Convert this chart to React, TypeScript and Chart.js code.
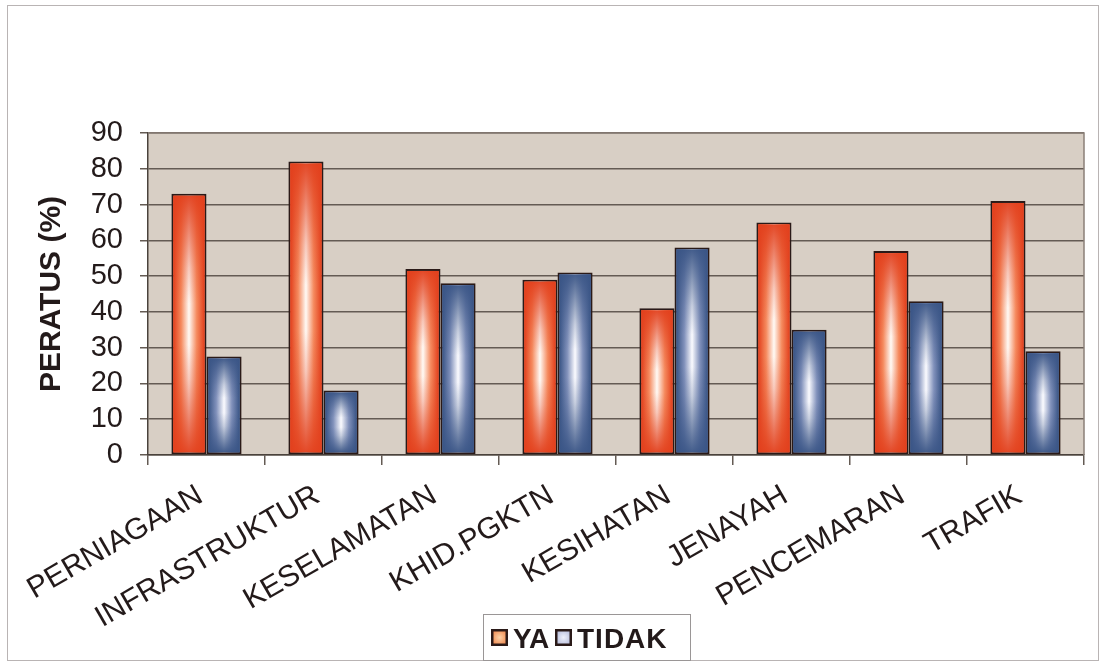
import React, { useEffect, useRef } from "react";
import { Chart, registerables } from "chart.js";

Chart.register(...registerables);

const categories = [
  "PERNIAGAAN",
  "INFRASTRUKTUR",
  "KESELAMATAN",
  "KHID.PGKTN",
  "KESIHATAN",
  "JENAYAH",
  "PENCEMARAN",
  "TRAFIK",
];
const yaValues = [73, 82, 52, 49, 41, 65, 57, 71];
const tidakValues = [27.5, 18, 48, 51, 58, 35, 43, 29];
const seriesNames = ["YA", "TIDAK"];
const yAxisTitle = "PERATUS (%)";
const yMin = 0;
const yMax = 90;
const yStep = 10;

const FONT = '"Liberation Sans", Arial, Helvetica, sans-serif';
const TEXT = "#231a1a";
const GRID = "#645b54";

type Pal = { edge: string; edgeRgb: string; mid: string; center: string };
const palettes: Pal[] = [
  { edge: "#e2401d", edgeRgb: "226,64,29", mid: "#f58a5e", center: "#fffaf5" },
  { edge: "#3a5586", edgeRgb: "58,85,134", mid: "#8191bb", center: "#fbfbff" },
];

function paintBar(ctx: CanvasRenderingContext2D, l: number, t: number, w: number, h: number, p: Pal) {
  if (w <= 0 || h <= 0) return;
  const gh = ctx.createLinearGradient(l, 0, l + w, 0);
  gh.addColorStop(0, p.edge);
  gh.addColorStop(0.25, p.mid);
  gh.addColorStop(0.5, p.center);
  gh.addColorStop(0.75, p.mid);
  gh.addColorStop(1, p.edge);
  ctx.fillStyle = gh;
  ctx.fillRect(l, t, w, h);
  const gv = ctx.createLinearGradient(0, t, 0, t + h);
  gv.addColorStop(0, `rgba(${p.edgeRgb},0.95)`);
  gv.addColorStop(0.1, `rgba(${p.edgeRgb},0.7)`);
  gv.addColorStop(0.28, `rgba(${p.edgeRgb},0.25)`);
  gv.addColorStop(0.42, `rgba(${p.edgeRgb},0)`);
  gv.addColorStop(0.58, `rgba(${p.edgeRgb},0)`);
  gv.addColorStop(0.72, `rgba(${p.edgeRgb},0.25)`);
  gv.addColorStop(0.9, `rgba(${p.edgeRgb},0.7)`);
  gv.addColorStop(1, `rgba(${p.edgeRgb},0.95)`);
  ctx.fillStyle = gv;
  ctx.fillRect(l, t, w, h);
}

const backgroundPlugin = {
  id: "bgPlugin",
  beforeDraw(chart: any) {
    const { ctx, chartArea: a, width, height } = chart;
    ctx.save();
    ctx.fillStyle = "#ffffff";
    ctx.fillRect(0, 0, width, height);
    ctx.strokeStyle = "#b9b4b4";
    ctx.lineWidth = 1;
    ctx.strokeRect(7.5, 5.5, width - 10, height - 8);
    ctx.fillStyle = "#d8cfc5";
    ctx.fillRect(a.left, a.top, a.right - a.left, a.bottom - a.top);
    ctx.restore();
  },
  beforeDatasetsDraw(chart: any) {
    const { ctx, chartArea: a } = chart;
    ctx.save();
    ctx.strokeStyle = "#8a8078";
    ctx.lineWidth = 1.5;
    ctx.beginPath();
    ctx.moveTo(a.left, a.top);
    ctx.lineTo(a.right, a.top);
    ctx.lineTo(a.right, a.bottom);
    ctx.stroke();
    ctx.restore();
  },
  afterDatasetsDraw(chart: any) {
    const { ctx } = chart;
    ctx.save();
    chart.data.datasets.forEach((_: any, di: number) => {
      const meta = chart.getDatasetMeta(di);
      const pal = palettes[di];
      meta.data.forEach((el: any) => {
        const p = el.getProps(["x", "y", "base", "width"], true);
        const bw = 2;
        const l = p.x - p.width / 2 + bw;
        const t = Math.min(p.y, p.base) + bw;
        const w = p.width - 2 * bw;
        const h = Math.abs(p.base - p.y) - 2 * bw;
        paintBar(ctx, l, t, w, h, pal);
      });
    });
    ctx.restore();
  },
  afterDraw(chart: any) {
    const { ctx } = chart;
    ctx.save();
    const bx = 483, by = 614, bwid = 207, bh = 46;
    ctx.fillStyle = "#ffffff";
    ctx.fillRect(bx, by, bwid, bh);
    ctx.strokeStyle = "#9a9696";
    ctx.lineWidth = 1;
    ctx.strokeRect(bx + 0.5, by + 0.5, bwid, bh);
    const items = [
      { label: seriesNames[0], sx: 491, tx: 513, fillA: "#f08a50", fillB: "#fbd2a8", spacing: "0px" },
      { label: seriesNames[1], sx: 555, tx: 577, fillA: "#b8bedc", fillB: "#eef0fb", spacing: "1px" },
    ];
    items.forEach((it) => {
      const sy = 629, ss = 17;
      ctx.fillStyle = "#2a1a18";
      ctx.fillRect(it.sx, sy, ss, ss);
      const g = ctx.createRadialGradient(it.sx + ss / 2, sy + ss / 2, 0, it.sx + ss / 2, sy + ss / 2, ss / 2);
      g.addColorStop(0, it.fillB);
      g.addColorStop(1, it.fillA);
      ctx.fillStyle = g;
      ctx.fillRect(it.sx + 2.5, sy + 2.5, ss - 5, ss - 5);
      ctx.fillStyle = TEXT;
      ctx.font = `bold 28px ${FONT}`;
      (ctx as any).letterSpacing = it.spacing;
      ctx.textBaseline = "alphabetic";
      ctx.textAlign = "left";
      ctx.fillText(it.label, it.tx, 648);
    });
    ctx.restore();
  },
};

export default function App() {
  const ref = useRef<HTMLCanvasElement>(null);
  useEffect(() => {
    if (!ref.current) return;
    const chart = new Chart(ref.current, {
      type: "bar",
      data: {
        labels: categories,
        datasets: [
          {
            label: seriesNames[0],
            data: yaValues,
            backgroundColor: palettes[0].edge,
            borderColor: "#2a1a18",
            borderWidth: 2,
            borderSkipped: false,
            categoryPercentage: 0.6,
            barPercentage: 1.0,
          },
          {
            label: seriesNames[1],
            data: tidakValues,
            backgroundColor: palettes[1].edge,
            borderColor: "#2a1a18",
            borderWidth: 2,
            borderSkipped: false,
            categoryPercentage: 0.6,
            barPercentage: 1.0,
          },
        ],
      },
      options: {
        responsive: false,
        animation: false,
        layout: { padding: { top: 133, right: 17, left: 0, bottom: 0 } },
        plugins: {
          legend: { display: false },
          tooltip: { enabled: false },
          title: { display: false },
        },
        scales: {
          x: {
            grid: {
              drawOnChartArea: false,
              drawTicks: true,
              tickLength: 10,
              color: GRID,
              lineWidth: 1.5,
            },
            border: { color: "#4a423c", width: 1.5 },
            ticks: {
              font: { family: FONT, size: 30 },
              color: TEXT,
              minRotation: 30,
              maxRotation: 30,
              autoSkip: false,
              padding: 13,
              labelOffset: -6,
            },
            afterFit(scale: any) {
              scale.height = 208;
            },
          },
          y: {
            min: yMin,
            max: yMax,
            ticks: {
              stepSize: yStep,
              autoSkip: false,
              font: { family: FONT, size: 29 },
              color: TEXT,
              padding: 17,
            },
            grid: {
              color: GRID,
              lineWidth: 1.5,
              tickLength: 8,
            },
            border: { color: "#4a423c", width: 1.5 },
            title: {
              display: true,
              text: yAxisTitle,
              font: { family: FONT, size: 30, weight: "bold" },
              color: TEXT,
              padding: { top: 34, bottom: 0 },
            },
            afterFit(scale: any) {
              scale.width = 148;
            },
          },
        },
      },
      plugins: [backgroundPlugin],
    } as any);
    return () => chart.destroy();
  }, []);
  return (
    <div style={{ position: "fixed", left: 0, top: 0, width: 1101, height: 663, background: "#fff" }}>
      <canvas ref={ref} width={1101} height={663} style={{ display: "block", width: 1101, height: 663 }} />
    </div>
  );
}
